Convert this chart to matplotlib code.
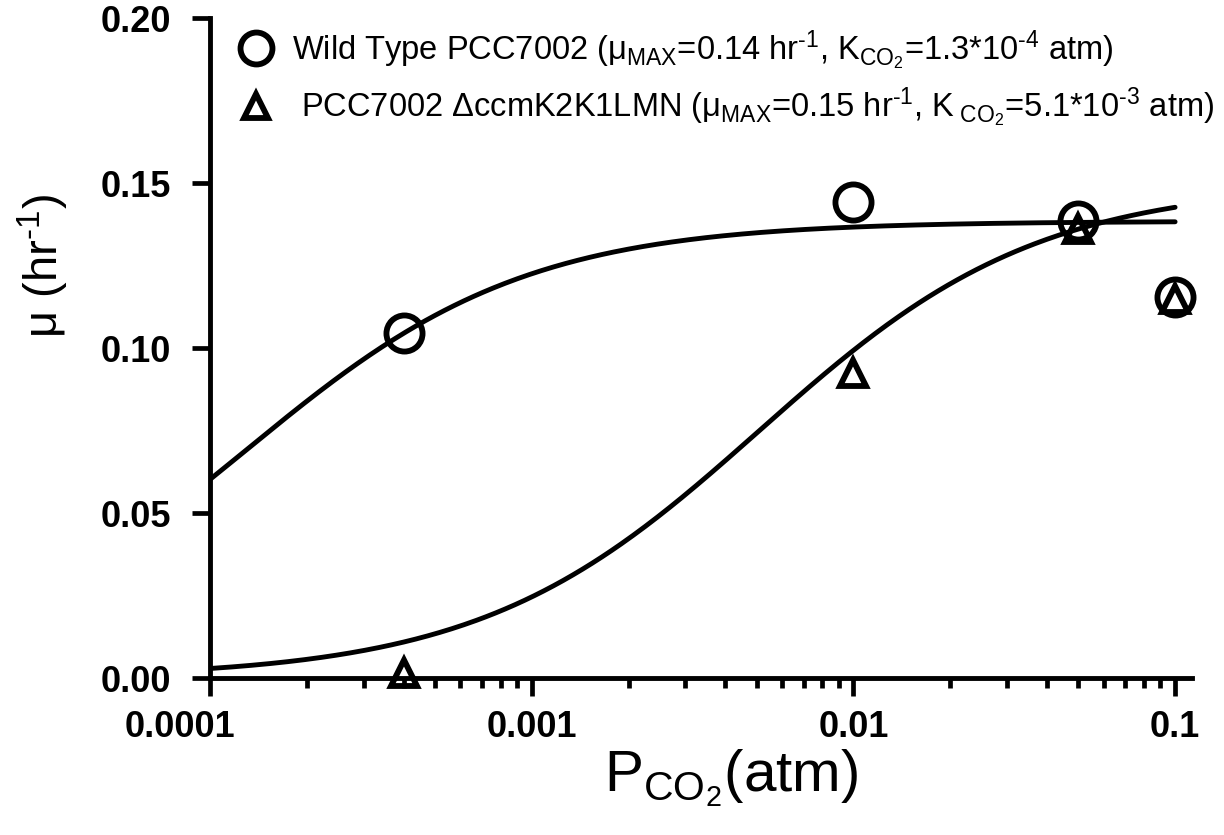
import numpy as np
import matplotlib.pyplot as plt
import matplotlib.transforms as mtransforms
from matplotlib.lines import Line2D
from matplotlib.ticker import FixedLocator, LogLocator, NullFormatter

plt.rcParams['font.family'] = ['Liberation Sans', 'DejaVu Sans']
plt.rcParams['mathtext.fontset'] = 'custom'
plt.rcParams['mathtext.rm'] = 'Liberation Sans'
plt.rcParams['mathtext.it'] = 'Liberation Sans'
plt.rcParams['mathtext.bf'] = 'Liberation Sans:bold'

# measured growth rates
wt_pco2 = [0.0004, 0.01, 0.05, 0.1]
wt_mu = [0.1046, 0.1444, 0.1386, 0.1155]
mut_pco2 = [0.0004, 0.01, 0.05, 0.1]
mut_mu = [0.0015, 0.0924, 0.136, 0.115]

# Monod fit parameters
wt_mumax, wt_k = 0.1385, 1.3e-4
mut_mumax, mut_k = 0.15, 5.1e-3

xticks = [0.0001, 0.001, 0.01, 0.1]
xticklabels = ['0.0001', '0.001', '0.01', '0.1']
yticks = [0.0, 0.05, 0.10, 0.15, 0.20]

wt_label = (r'Wild Type PCC7002 (μ$_{\mathrm{MAX}}$=0.14 hr$^{\text{-1}}$, '
            r'K$_{\mathrm{CO_2}}$=1.3*10$^{\text{-4}}$ atm)')
mut_label = (r' PCC7002 ΔccmK2K1LMN (μ$_{\mathrm{MAX}}$=0.15 hr$^{\text{-1}}$, '
             r'K$_{\mathrm{\ CO_2}}$=5.1*10$^{\text{-3}}$ atm)')

fig = plt.figure(figsize=(12.24, 8.35), dpi=100)
ax = fig.add_axes([0.1716, 0.188, 0.974 - 0.1716, 0.978 - 0.188])

# fitted curves
xfit = np.logspace(-4, -1, 400)
ax.plot(xfit, wt_mumax * xfit / (wt_k + xfit), color='black', lw=3.5,
        solid_capstyle='round')
ax.plot(xfit, mut_mumax * xfit / (mut_k + xfit), color='black', lw=3.5,
        solid_capstyle='round')

# data points
ax.plot(wt_pco2, wt_mu, 'o', ms=26, mfc='none', mec='black', mew=4.2,
        clip_on=False, zorder=5)
ax.plot(mut_pco2, mut_mu, '^', ms=19, mfc='none', mec='black', mew=4.2,
        clip_on=False, zorder=6)

ax.set_xscale('log')
ax.set_xlim(1e-4, 0.113)
ax.set_ylim(0, 0.2)

ax.xaxis.set_major_locator(FixedLocator(xticks))
ax.set_xticklabels(xticklabels)
ax.xaxis.set_minor_locator(LogLocator(base=10, subs=np.arange(2, 10), numticks=20))
ax.xaxis.set_minor_formatter(NullFormatter())
ax.set_yticks(yticks)
ax.set_yticklabels([f'{v:.2f}' for v in yticks])

for side in ['top', 'right']:
    ax.spines[side].set_visible(False)
for side in ['left', 'bottom']:
    ax.spines[side].set_linewidth(3.5)

ax.tick_params(which='major', direction='out', length=13, width=3.4,
               labelsize=26)
ax.tick_params(which='minor', direction='out', length=7, width=3.4)
ax.tick_params(axis='x', pad=10)
ax.tick_params(axis='y', pad=15)
for lab in ax.get_xticklabels() + ax.get_yticklabels():
    lab.set_fontweight('bold')

# first x label sits left of its tick, clear of the y labels
first = ax.get_xticklabels()[0]
first.set_transform(first.get_transform() +
                    mtransforms.ScaledTranslation(-0.3, 0, fig.dpi_scale_trans))

ax.set_xlabel(r'P$_{\mathrm{CO_2}}$(atm)', fontsize=42)
ax.xaxis.set_label_coords(0.53, -0.105)
ax.set_ylabel(r'μ (hr$^{\text{-1}}$)', fontsize=34)
ax.yaxis.set_label_coords(-0.142, 0.625)

handles = [
    Line2D([], [], marker='o', ls='none', ms=23, mfc='none', mec='black', mew=4.2),
    Line2D([], [], marker='^', ms=17, ls='none', mfc='none', mec='black', mew=4.2),
]
ax.legend(handles, [wt_label, mut_label], loc='upper left',
          bbox_to_anchor=(0.0, 1.005), frameon=False, fontsize=23.5,
          handletextpad=0.1, labelspacing=0.42, borderaxespad=0)

fig.savefig('out.png', dpi=100)
